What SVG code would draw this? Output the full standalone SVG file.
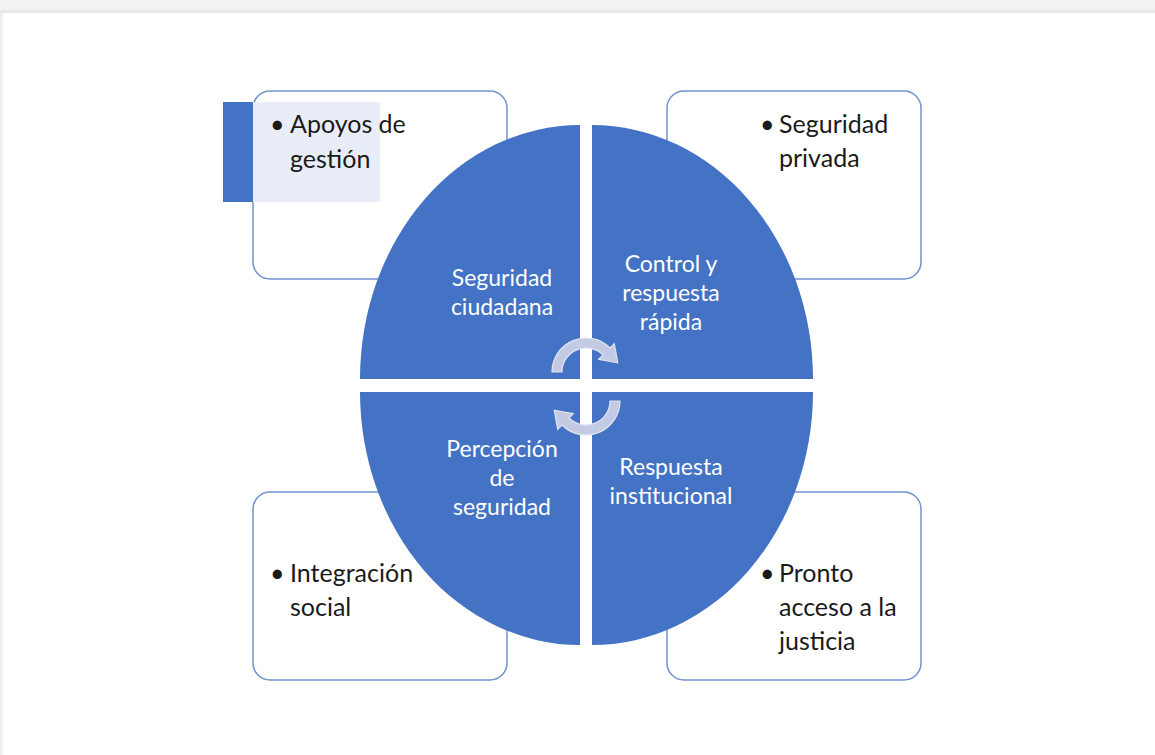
<svg xmlns="http://www.w3.org/2000/svg" width="1155" height="755" viewBox="0 0 1155 755">
<style>
.box{fill:#ffffff;stroke:#7392d0;stroke-width:1.5}
.q{fill:#4472c4}
.lbl{font-family:Lato,"Noto Sans","Liberation Sans",sans-serif;font-size:23px;fill:#ffffff;text-anchor:middle}
.bt{font-family:Lato,"Noto Sans","Liberation Sans",sans-serif;font-size:25px;fill:#1a1a1a}
.arr{fill:#c3cbe4;stroke:#dfe4f2;stroke-width:1.2}
</style>
<rect x="0" y="0" width="1155" height="755" fill="#ffffff"/>
<rect x="0" y="0" width="1155" height="10" fill="#f2f2f2"/>
<rect x="0" y="10" width="1155" height="3" fill="#e7e7e7"/>
<rect x="0" y="13" width="3" height="742" fill="#f0f0f0"/>

<g id="box-apoyos">
<rect class="box" x="253" y="91" width="254" height="188" rx="17"/>
<rect x="223" y="102" width="30" height="100" fill="#4472c4"/>
<rect x="253" y="102" width="127" height="100" fill="#e9edf7"/>
<text class="bt" x="270" y="133">•</text>
<text class="bt" x="290" y="133">Apoyos de</text>
<text class="bt" x="290" y="168">gestión</text>
</g>
<g id="box-privada">
<rect class="box" x="667" y="91" width="254" height="188" rx="17"/>
<text class="bt" x="760" y="133">•</text>
<text class="bt" x="779" y="133">Seguridad</text>
<text class="bt" x="779" y="167">privada</text>
</g>
<g id="box-integracion">
<rect class="box" x="253" y="492" width="254" height="188" rx="17"/>
<text class="bt" x="270" y="582">•</text>
<text class="bt" x="290" y="582">Integración</text>
<text class="bt" x="290" y="616">social</text>
</g>
<g id="box-justicia">
<rect class="box" x="667" y="492" width="254" height="188" rx="17"/>
<text class="bt" x="760" y="582">•</text>
<text class="bt" x="779" y="582">Pronto</text>
<text class="bt" x="779" y="616">acceso a la</text>
<text class="bt" x="779" y="650">justicia</text>
</g>

<g id="q-seguridad-ciudadana">
<path class="q" d="M580,379 L360,379 A220,254 0 0 1 580,125 Z"/>
<text class="lbl" x="502" y="286">Seguridad</text>
<text class="lbl" x="502" y="315">ciudadana</text>
</g>
<g id="q-control">
<path class="q" d="M592,379 L592,125 A221,254 0 0 1 813,379 Z"/>
<text class="lbl" x="671" y="272">Control y</text>
<text class="lbl" x="671" y="301">respuesta</text>
<text class="lbl" x="671" y="330">rápida</text>
</g>
<g id="q-respuesta">
<path class="q" d="M592,392 L813,392 A221,253 0 0 1 592,645 Z"/>
<text class="lbl" x="671" y="475">Respuesta</text>
<text class="lbl" x="671" y="504">institucional</text>
</g>
<g id="q-percepcion">
<path class="q" d="M580,392 L580,645 A220,253 0 0 1 360,392 Z"/>
<text class="lbl" x="502" y="457">Percepción</text>
<text class="lbl" x="502" y="486">de</text>
<text class="lbl" x="502" y="515">seguridad</text>
</g>

<g id="connectors">
<path class="arr" d="M552,372 A34,34 0 0 1 610.04,347.96 L614.28,343.72 L617.8,362.8 L598.73,359.27 L602.97,355.03 A24,24 0 0 0 562,372 Z"/>
<path class="arr" d="M620,401 A34,34 0 0 1 561.96,425.04 L557.72,429.28 L554.2,410.2 L573.27,413.73 L569.03,417.97 A24,24 0 0 0 610,401 Z"/>
</g>
</svg>
